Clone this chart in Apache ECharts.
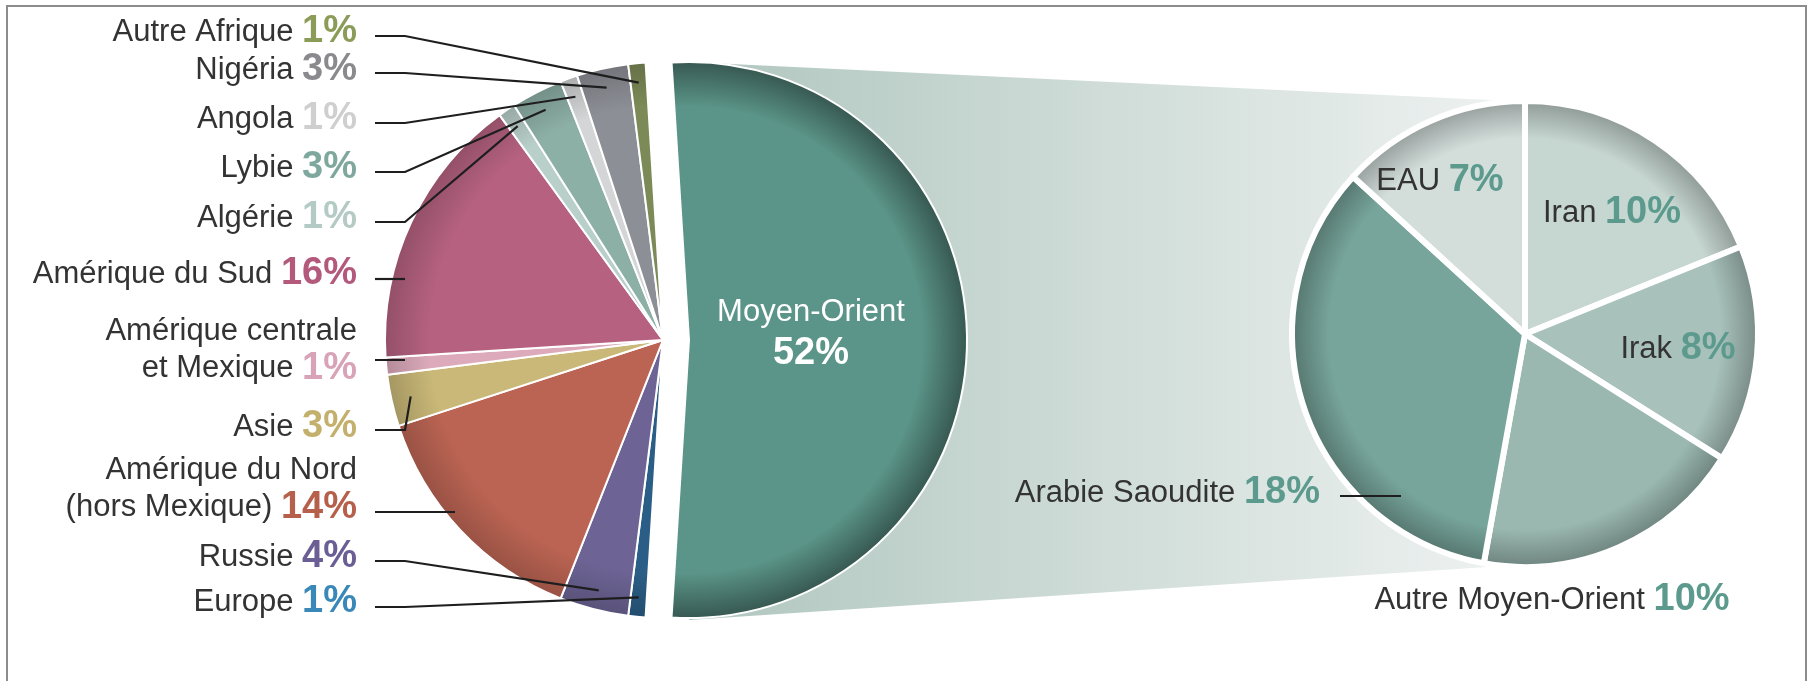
<!DOCTYPE html>
<html>
<head>
<meta charset="utf-8">
<script src="https://cdn.jsdelivr.net/npm/echarts@6.0.0/dist/echarts.min.js"></script>
<style>
  html, body { margin: 0; padding: 0; background: #fff; }
  #chart { width: 1808px; height: 681px; }
</style>
</head>
<body>
<div id="chart"></div>
<script>
// world pie, clockwise from Moyen-Orient
const leftNames = ['Moyen-Orient', 'Europe', 'Russie', 'Amérique du Nord\n(hors Mexique)', 'Asie',
  'Amérique centrale\net Mexique', 'Amérique du Sud', 'Algérie', 'Lybie', 'Angola', 'Nigéria', 'Autre Afrique'];
const leftValues = [52, 1, 4, 14, 3, 1, 16, 1, 3, 1, 3, 1];

// Moyen-Orient detail, clockwise from top
const rightNames = ['Iran', 'Irak', 'Autre Moyen-Orient', 'Arabie Saoudite', 'EAU'];
const rightValues = [10, 8, 10, 18, 7];

// styles
const leftColors = ['#5b9488', '#2b5e86', '#6d6495', '#bb6453', '#c9b877', '#dcaabb', '#b5617f',
  '#b9cfc9', '#8db0a6', '#d3d5d6', '#8d8f96', '#7c8a57'];
const leftPctColors = ['#ffffff', '#3a88b8', '#6b5e95', '#b65f4b', '#c4b06d', '#d8a3b6', '#b35a7c',
  '#b3cbc4', '#7ea89e', '#cfcfcf', '#8a8a8e', '#8b9b58'];
const rightColors = ['#c6d6d1', '#a8c1bb', '#9ab8b0', '#77a59b', '#d3dedb'];

// layout
const LEFT_CX = 663, LEFT_CY = 340, LEFT_R = 278, MO_OFFSET = 26;
const RIGHT_CX = 1525, RIGHT_CY = 334, RIGHT_R = 233;
// Moyen-Orient slice centred on the right-hand side
const START_ANGLE = 90 + (leftValues[0] - 50) / 100 * 180;
const LABEL_RIGHT_X = 357, LINE_START_X = 375, LINE_ELBOW_X = 405;
const leftLabelY = [null, 602, 557, 489, 427, 350, 274, 218, 168, 119, 70, 32];
const leftLineY = [null, 607, 561, 512, 430, 360, 279, 222, 172, 123, 73, 36];
// leader lines that run straight into their slice
const leftLineEndX = [null, null, null, 455, null, 400, 405, null, null, null, null, null];
const rightLabelPos = [[1612, 213], [1678, 349], [1552, 600], [1320, 493], [1440, 181]];

const FONT = "'Liberation Sans', Arial, Helvetica, sans-serif";

function darken(hex, f) {
  const n = parseInt(hex.slice(1), 16);
  const r = Math.round(((n >> 16) & 255) * f), g = Math.round(((n >> 8) & 255) * f), b = Math.round((n & 255) * f);
  return 'rgb(' + r + ',' + g + ',' + b + ')';
}
function rimFill(cx, cy, r, base, f) {
  return new echarts.graphic.RadialGradient(cx, cy, r, [
    { offset: 0, color: base },
    { offset: 0.84, color: base },
    { offset: 1, color: darken(base, f) }
  ], true);
}

// mid angle (radians, math convention) of a slice of the left pie
function leftMidAngle(i) {
  const total = leftValues.reduce((a, b) => a + b, 0);
  let before = 0;
  for (let k = 0; k < i; k++) before += leftValues[k];
  const mid = START_ANGLE - (before + leftValues[i] / 2) / total * 360;
  return mid * Math.PI / 180;
}

const rich = {
  n: { fontFamily: FONT, fontSize: 31, color: '#333', lineHeight: 37 },
  w: { fontFamily: FONT, fontSize: 31, color: '#fff', lineHeight: 42 },
  wb: { fontFamily: FONT, fontSize: 38, fontWeight: 'bold', color: '#fff', lineHeight: 42 },
  rp: { fontFamily: FONT, fontSize: 38, fontWeight: 'bold', color: '#5c9a8e', lineHeight: 40 },
  rn: { fontFamily: FONT, fontSize: 31, color: '#333', lineHeight: 40 }
};
leftPctColors.forEach((c, i) => {
  rich['p' + i] = { fontFamily: FONT, fontSize: 38, fontWeight: 'bold', color: c, lineHeight: 37 };
});

const lineStyle = { color: '#1e1e1e', width: 2.2 };

const leftData = leftNames.map((name, i) => ({
  name: name,
  value: leftValues[i],
  selected: i === 0,
  itemStyle: { color: rimFill(LEFT_CX, LEFT_CY, LEFT_R, leftColors[i], i === 0 ? 0.6 : 0.82) }
}));

// same slices again, transparent, only to carry labels and leader lines above the pie
const leftLabelData = leftNames.map((name, i) => {
  const item = { name: name, value: leftValues[i], selected: i === 0 };
  if (i === 0) {
    item.label = { position: 'inside', formatter: '{w|Moyen-Orient}\n{wb|' + leftValues[0] + '%}' };
    item.labelLine = { show: false };
  }
  return item;
});

const rightData = rightNames.map((name, i) => ({
  name: name,
  value: rightValues[i],
  itemStyle: { color: rimFill(RIGHT_CX, RIGHT_CY, RIGHT_R, rightColors[i], 0.72) }
}));
const rightLabelData = rightNames.map((name, i) => ({
  name: name,
  value: rightValues[i],
  labelLine: { show: name === 'Arabie Saoudite' }
}));

const chart = echarts.init(document.getElementById('chart'));

const leftBase = {
  type: 'pie',
  center: [LEFT_CX, LEFT_CY],
  radius: LEFT_R,
  startAngle: START_ANGLE,
  clockwise: true,
  selectedMode: 'single',
  selectedOffset: MO_OFFSET,
  avoidLabelOverlap: false,
  emphasis: { disabled: true }
};
const rightBase = {
  type: 'pie',
  center: [RIGHT_CX, RIGHT_CY],
  radius: RIGHT_R,
  startAngle: 90,
  clockwise: true,
  avoidLabelOverlap: false,
  emphasis: { disabled: true }
};

const option = {
  animation: false,
  graphic: [
    {
      type: 'polyline',
      shape: { points: [[7, 700], [7, 6], [1806, 6], [1806, 700]] },
      style: { stroke: '#8c8c8c', lineWidth: 2, fill: null },
      z: -10
    },
    {
      type: 'polygon',
      shape: {
        points: [
          [LEFT_CX + MO_OFFSET, LEFT_CY - LEFT_R],
          [RIGHT_CX - 15, RIGHT_CY - RIGHT_R],
          [RIGHT_CX - 38, RIGHT_CY + RIGHT_R],
          [LEFT_CX + MO_OFFSET, LEFT_CY + LEFT_R + 2]
        ]
      },
      style: {
        fill: new echarts.graphic.LinearGradient(0, 0, 1, 0, [
          { offset: 0, color: '#b0c6bf' },
          { offset: 1, color: '#eef2f1' }
        ])
      },
      z: -5
    }
  ],
  series: [
    Object.assign({}, leftBase, {
      name: 'Monde',
      z: 2,
      itemStyle: { borderColor: '#fff', borderWidth: 2 },
      label: { show: false },
      labelLine: { show: false },
      data: leftData
    }),
    Object.assign({}, rightBase, {
      name: 'Moyen-Orient',
      z: 2,
      itemStyle: { borderColor: '#fff', borderWidth: 6 },
      label: { show: false },
      labelLine: { show: false },
      data: rightData
    }),
    Object.assign({}, leftBase, {
      name: 'Monde-labels',
      z: 5,
      silent: true,
      itemStyle: { color: 'rgba(0,0,0,0)', borderWidth: 0 },
      label: {
        show: true,
        position: 'outside',
        rich: rich,
        formatter: function (p) {
          const lines = p.name.split('\n');
          return lines.map((l, k) => k === lines.length - 1
            ? '{n|' + l + ' }{p' + p.dataIndex + '|' + p.value + '%}'
            : '{n|' + l + '}').join('\n');
        }
      },
      labelLine: { show: true, lineStyle: lineStyle },
      labelLayout: function (params) {
        const i = params.dataIndex;
        if (i === 0) return { dx: -20, dy: -7 };
        const ly = leftLineY[i];
        let anchor;
        if (leftLineEndX[i] != null) {
          anchor = [leftLineEndX[i], ly];
        } else {
          const a = leftMidAngle(i);
          const r = LEFT_R * 0.93;
          anchor = [LEFT_CX + r * Math.cos(a), LEFT_CY - r * Math.sin(a)];
        }
        return {
          x: LABEL_RIGHT_X,
          y: leftLabelY[i],
          align: 'right',
          verticalAlign: 'middle',
          labelLinePoints: [anchor, [LINE_ELBOW_X, ly], [LINE_START_X, ly]]
        };
      },
      data: leftLabelData
    }),
    Object.assign({}, rightBase, {
      name: 'Moyen-Orient-labels',
      z: 5,
      silent: true,
      itemStyle: { color: 'rgba(0,0,0,0)', borderWidth: 0 },
      label: {
        show: true,
        position: 'outside',
        rich: rich,
        formatter: function (p) { return '{rn|' + p.name + ' }{rp|' + p.value + '%}'; }
      },
      labelLine: { lineStyle: lineStyle },
      labelLayout: function (params) {
        const i = params.dataIndex;
        const pos = rightLabelPos[i];
        if (rightNames[i] === 'Arabie Saoudite') {
          const ly = pos[1] + 3;
          return {
            x: pos[0], y: pos[1], align: 'right', verticalAlign: 'middle',
            labelLinePoints: [[1401, ly], [1370, ly], [1340, ly]]
          };
        }
        return { x: pos[0], y: pos[1], align: 'center', verticalAlign: 'middle' };
      },
      data: rightLabelData
    })
  ]
};

chart.setOption(option);
</script>
</body>
</html>
